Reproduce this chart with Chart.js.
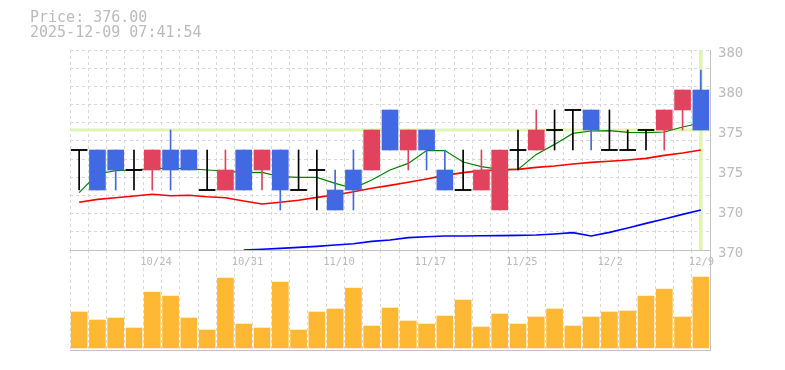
<!DOCTYPE html>
<html>
<head>
<meta charset="utf-8">
<script src="https://cdn.jsdelivr.net/npm/chart.js@4.4.1/dist/chart.umd.min.js"></script>
<style>
html, body { margin: 0; padding: 0; background: #ffffff; }
#wrap { position: relative; width: 785px; height: 370px; overflow: hidden; background: #ffffff; }
#title { position: absolute; left: 30px; top: 10px; font: 15px/15px "DejaVu Sans Mono", monospace; color: #bbbbbb; white-space: pre; }
#volCanvas { position: absolute; left: 0; top: 240px; }
#priceCanvas { position: absolute; left: 0; top: 0; }
</style>
</head>
<body>
<div id="wrap">
  <canvas id="volCanvas" width="785" height="130"></canvas>
  <canvas id="priceCanvas" width="785" height="270"></canvas>
  <div id="title">Price: 376.00
2025-12-09 07:41:54</div>
</div>
<script>
// ---- data ----
const dates = ['10/20','10/21','10/22','10/23','10/24','10/27','10/28','10/29','10/30','10/31',
               '11/4','11/5','11/6','11/7','11/10','11/11','11/12','11/13','11/14','11/17',
               '11/18','11/19','11/20','11/21','11/25','11/26','11/27','11/28','12/1','12/2',
               '12/3','12/4','12/5','12/8','12/9'];
const xTickLabels = ['10/24','10/31','11/10','11/17','11/25','12/2','12/9'];
const yTickLabels = ['370','370','375','375','380','380'];

const open  = [375,375,375,374,374,375,375,373,373,375,374,375,373,374,373,374,374,377,375,376,374,373,373,372,375,375,376,377,377,375,375,376,376,377,378];
const high  = [375,375,375,375,375,376,375,375,375,375,375,375,375,375,374,375,376,377,376,376,375,375,375,375,376,377,377,377,377,377,376,376,377,378,379];
const low   = [373,373,373,373,373,373,374,373,373,373,373,372,373,372,372,372,374,375,374,374,373,373,373,372,374,375,375,375,375,375,375,375,375,376,376];
const close = [375,373,374,374,375,374,374,373,374,373,375,373,373,374,372,373,376,375,376,375,373,373,374,375,375,376,376,377,376,375,375,376,377,378,376];

const ma5  = [372.87,373.8,373.97,374.0,374.08,374.08,374.07,374.0,373.95,373.87,373.88,373.67,373.63,373.63,373.33,373.08,373.5,374.0,374.33,374.97,374.97,374.4,374.17,374.03,374.03,374.78,375.28,375.83,375.95,375.97,375.88,375.87,375.9,376.15,376.35];
const ma25 = [372.39,372.53,372.61,372.7,372.79,372.71,372.74,372.66,372.61,372.45,372.3,372.39,372.49,372.63,372.75,372.91,373.09,373.23,373.39,373.55,373.73,373.87,373.97,374.0,374.03,374.13,374.2,374.3,374.38,374.44,374.5,374.58,374.73,374.85,375.0];
const ma75 = [null,null,null,null,null,null,null,null,null,370.0,370.04,370.08,370.13,370.18,370.25,370.31,370.43,370.5,370.62,370.66,370.7,370.7,370.71,370.72,370.73,370.75,370.8,370.87,370.7,370.88,371.1,371.33,371.55,371.78,372.0];

const volume = [3600,2800,3000,2000,5600,5200,3000,1800,7000,2400,2000,6600,1800,3600,3900,6000,2200,4000,2700,2400,3200,4800,2100,3400,2400,3100,3900,2200,3100,3600,3700,5200,5900,3100,7100];

const currentPrice = 376;
const priceMin = 370, priceMax = 380;

// ---- styles ----
const UP = '#e1435f', DOWN = '#4169e1', EVEN = '#000000';
const NOW = '#e2f4b4';
const GRID = '#d8d8d8', AXIS = '#c2c2c2', TEXT = '#bbbbbb';
const MONO = '"DejaVu Sans Mono", monospace';
const DOJI_HALF = 0.03;

const candleColor = close.map((c, i) => c > open[i] ? UP : (c < open[i] ? DOWN : EVEN));
const bodyData = open.map((o, i) => o === close[i]
  ? [o - DOJI_HALF, o + DOJI_HALF]
  : [Math.min(o, close[i]), Math.max(o, close[i])]);
const wickData = low.map((l, i) => [l, high[i]]);
const markerData = dates.map((d, i) => i === dates.length - 1 ? [priceMin, priceMax] : null);

new Chart(document.getElementById('priceCanvas'), {
  type: 'bar',
  data: {
    labels: dates,
    datasets: [
      { type: 'line', label: 'now', data: [{x: 0, y: currentPrice}, {x: 1, y: currentPrice}], xAxisID: 'xl', yAxisID: 'y',
        borderColor: NOW, borderWidth: 3, pointRadius: 0, order: 20 },
      { type: 'bar', label: 'marker', data: markerData, xAxisID: 'x', yAxisID: 'y', backgroundColor: NOW, barThickness: 3, grouped: false, order: 19 },
      { type: 'line', label: 'MA75', data: ma75, xAxisID: 'x', yAxisID: 'y', borderColor: '#0000ff', borderWidth: 1.6, pointRadius: 0, tension: 0, order: 12 },
      { type: 'line', label: 'MA25', data: ma25, xAxisID: 'x', yAxisID: 'y', borderColor: '#ff0000', borderWidth: 1.6, pointRadius: 0, tension: 0, order: 11 },
      { type: 'line', label: 'MA5', data: ma5, xAxisID: 'x', yAxisID: 'y', borderColor: '#008000', borderWidth: 1.2, pointRadius: 0, tension: 0, order: 10 },
      { type: 'bar', label: 'wick', data: wickData, xAxisID: 'x', yAxisID: 'y', backgroundColor: candleColor, barThickness: 1, grouped: false, order: 2 },
      { type: 'bar', label: 'body', data: bodyData, xAxisID: 'x', yAxisID: 'y', backgroundColor: candleColor, barThickness: 16, grouped: false, order: 1 }
    ]
  },
  options: {
    responsive: false, animation: false, devicePixelRatio: 1,
    layout: { padding: { left: 70, top: 50, right: 0, bottom: 0 } },
    plugins: { legend: { display: false }, tooltip: { enabled: false } },
    scales: {
      x: {
        type: 'category', offset: true, position: 'bottom', weight: 1,
        grid: { offset: true, color: GRID, drawTicks: false },
        border: { display: true, color: AXIS, width: 1, dash: [3, 3] },
        ticks: {
          autoSkip: false, maxRotation: 0, minRotation: 0, align: 'start', labelOffset: -12, padding: 6,
          color: TEXT, font: { family: MONO, size: 10.5 },
          callback: (v, i) => xTickLabels.includes(dates[i]) ? dates[i] : ''
        },
        afterFit: s => { s.height = 20; }
      },
      y: {
        type: 'linear', position: 'right', min: priceMin, max: priceMax,
        grid: { display: false, drawTicks: false },
        border: { display: true, color: AXIS, width: 1 },
        ticks: {
          stepSize: 2, padding: 8, labelOffset: 3, color: TEXT, font: { family: MONO, size: 14 },
          callback: (v, i) => yTickLabels[i]
        },
        afterFit: s => { s.width = 75; }
      },
      xl: {
        type: 'linear', display: true, position: 'top', min: 0, max: 1, offset: false,
        ticks: { display: false }, grid: { display: false, drawTicks: false, offset: false }, border: { display: false },
        afterFit: s => { s.height = 0; }
      },
      gy: {
        type: 'linear', position: 'left', min: 0, max: 11,
        ticks: { display: false, stepSize: 1 },
        grid: { color: GRID, drawTicks: false },
        border: { display: false, dash: [3, 3] },
        afterFit: s => { s.width = 0; }
      }
    }
  }
});

new Chart(document.getElementById('volCanvas'), {
  type: 'bar',
  data: {
    labels: dates,
    datasets: [{ label: 'volume', data: volume, backgroundColor: '#ffb833', barThickness: 16, borderWidth: 0 }]
  },
  options: {
    responsive: false, animation: false, devicePixelRatio: 1,
    layout: { padding: { left: 70, top: 10, right: 0, bottom: 0 } },
    plugins: { legend: { display: false }, tooltip: { enabled: false } },
    scales: {
      x: {
        offset: true,
        grid: { offset: true, color: GRID, drawTicks: false },
        border: { display: true, color: AXIS, width: 1, dash: [3, 3] },
        ticks: { display: false },
        afterFit: s => { s.height = 20; }
      },
      y: {
        position: 'right', min: -200, max: 9800,
        ticks: { display: false },
        grid: { display: false, drawTicks: false },
        border: { display: true, color: AXIS, width: 1 },
        afterFit: s => { s.width = 75; }
      }
    }
  }
});
</script>
</body>
</html>
